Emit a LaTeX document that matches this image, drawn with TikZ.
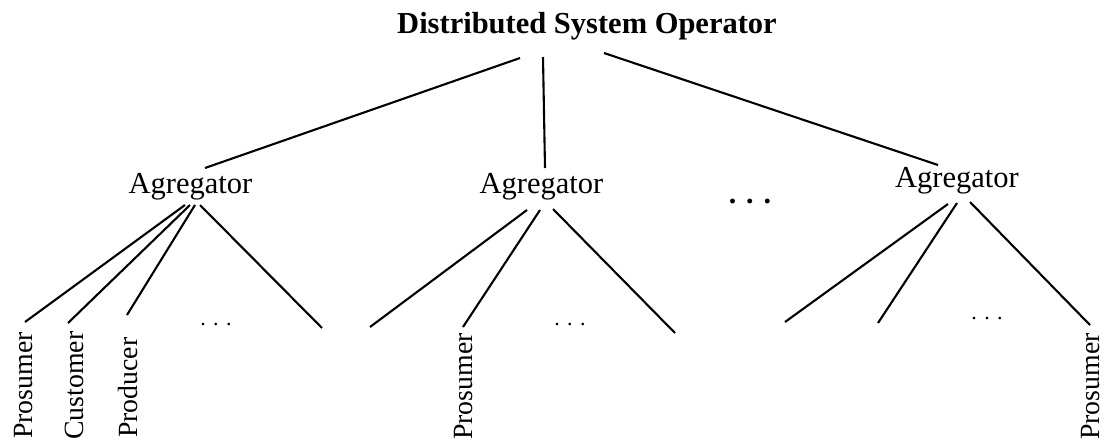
\documentclass[tikz,border=0pt]{standalone}
\usepackage{fontspec}
\setmainfont{Liberation Serif}
\begin{document}
\begin{tikzpicture}[x=1pt,y=-1pt,
  agg/.style={inner sep=0pt,anchor=base,font=\fontsize{30.5}{36}\selectfont},
  leaf/.style={inner sep=0pt,anchor=base west,rotate=90,font=\fontsize{27.8}{33}\selectfont},
  sdots/.style={inner sep=0pt,anchor=base,font=\fontsize{22}{26}\selectfont},
  link/.style={line width=2.1pt}]
\useasboundingbox (0,0) rectangle (1104,445);
% nodes
\node[agg,font=\fontsize{30.5}{36}\selectfont\bfseries] (dso) at (587,33) {Distributed System Operator};
\node[agg] (a1) at (190.5,193) {Agregator};
\node[agg] (a2) at (541.5,193) {Agregator};
\node[agg] (a3) at (957,187) {Agregator};
\node[agg,font=\fontsize{30}{36}\selectfont\bfseries] (mdots) at (750,203) {. . .};
\node[leaf] (p1) at (32,439) {Prosumer};
\node[leaf] (c1) at (83,440) {Customer};
\node[leaf] (r1) at (137,438) {Producer};
\node[leaf] (p2) at (472,440) {Prosumer};
\node[leaf] (p3) at (1099,440) {Prosumer};
\node[sdots] (d1) at (216,325) {. . .};
\node[sdots] (d2) at (570,325) {. . .};
\node[sdots] (d3) at (987,319) {. . .};
% connector ends
\coordinate (s1) at (520,58);   \coordinate (t1) at (205,168);
\coordinate (s2) at (543,57);   \coordinate (t2) at (545,168);
\coordinate (s3) at (604,53);   \coordinate (t3) at (938,165);
\coordinate (a1a) at (185,205); \coordinate (p1t) at (25,322);
\coordinate (a1b) at (190,205); \coordinate (c1t) at (68,323);
\coordinate (a1c) at (195,205); \coordinate (r1t) at (127,315);
\coordinate (a1d) at (200,205); \coordinate (e1) at (322,328);
\coordinate (a2a) at (527,210); \coordinate (e2) at (370,327);
\coordinate (a2b) at (540,210); \coordinate (p2t) at (463,327);
\coordinate (a2c) at (553,209); \coordinate (e3) at (675,333);
\coordinate (a3a) at (948,204); \coordinate (e4) at (785,322);
\coordinate (a3b) at (957,203); \coordinate (e5) at (878,323);
\coordinate (a3c) at (970,202); \coordinate (p3t) at (1090,325);
% connectors
\draw[link] (s1) -- (t1);
\draw[link] (s2) -- (t2);
\draw[link] (s3) -- (t3);
\draw[link] (a1a) -- (p1t);
\draw[link] (a1b) -- (c1t);
\draw[link] (a1c) -- (r1t);
\draw[link] (a1d) -- (e1);
\draw[link] (a2a) -- (e2);
\draw[link] (a2b) -- (p2t);
\draw[link] (a2c) -- (e3);
\draw[link] (a3a) -- (e4);
\draw[link] (a3b) -- (e5);
\draw[link] (a3c) -- (p3t);
\end{tikzpicture}
\end{document}
